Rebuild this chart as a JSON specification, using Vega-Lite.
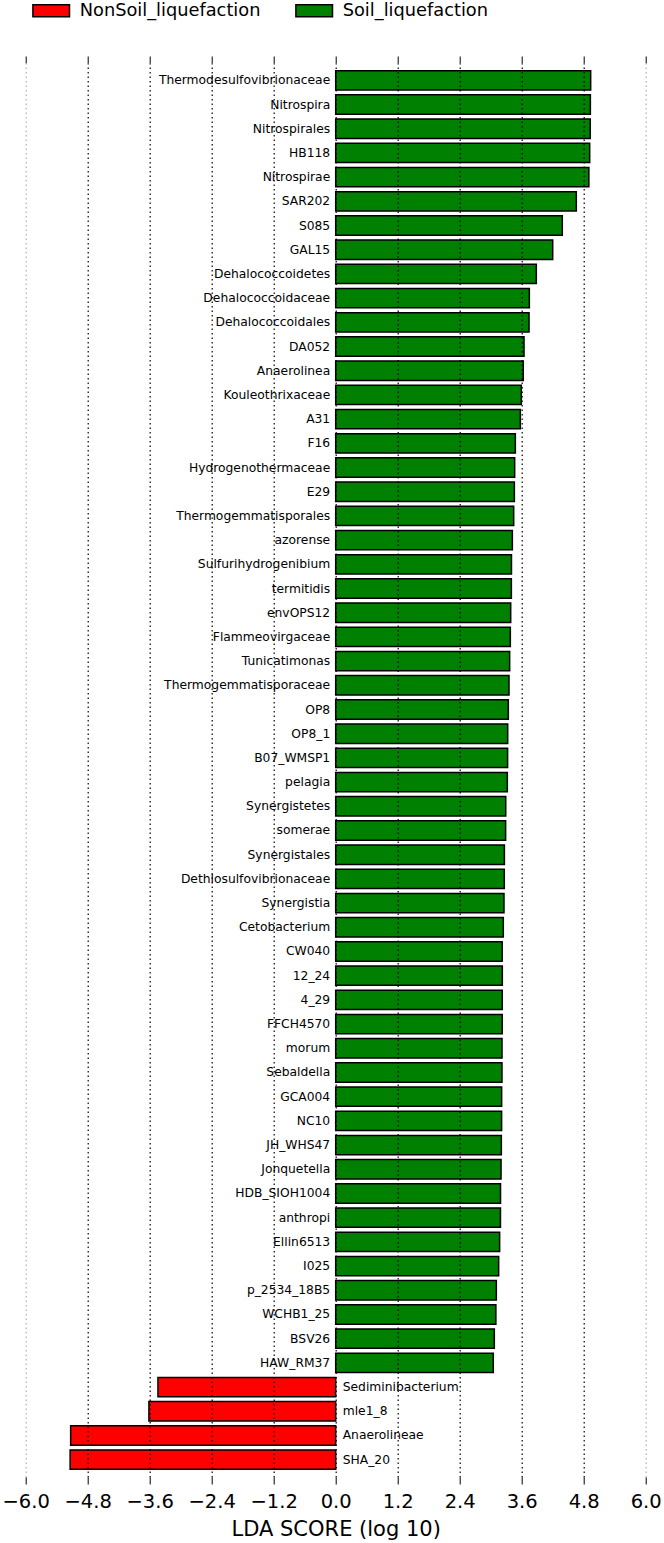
{
  "$schema": "https://vega.github.io/schema/vega-lite/v6.json",
  "width": 620,
  "height": 1414,
  "autosize": {"type": "none"},
  "padding": {"left": 25.7, "top": 63, "right": 18.3, "bottom": 66},
  "config": {"view": {"stroke": null}, "font": "DejaVu Sans"},
  "data": {
    "values": [
      {"name": "Thermodesulfovibrionaceae", "value": 4.935, "class": "Soil_liquefaction"},
      {"name": "Nitrospira", "value": 4.929, "class": "Soil_liquefaction"},
      {"name": "Nitrospirales", "value": 4.927, "class": "Soil_liquefaction"},
      {"name": "HB118", "value": 4.916, "class": "Soil_liquefaction"},
      {"name": "Nitrospirae", "value": 4.9, "class": "Soil_liquefaction"},
      {"name": "SAR202", "value": 4.657, "class": "Soil_liquefaction"},
      {"name": "S085", "value": 4.386, "class": "Soil_liquefaction"},
      {"name": "GAL15", "value": 4.2, "class": "Soil_liquefaction"},
      {"name": "Dehalococcoidetes", "value": 3.883, "class": "Soil_liquefaction"},
      {"name": "Dehalococcoidaceae", "value": 3.748, "class": "Soil_liquefaction"},
      {"name": "Dehalococcoidales", "value": 3.742, "class": "Soil_liquefaction"},
      {"name": "DA052", "value": 3.645, "class": "Soil_liquefaction"},
      {"name": "Anaerolinea", "value": 3.63, "class": "Soil_liquefaction"},
      {"name": "Kouleothrixaceae", "value": 3.593, "class": "Soil_liquefaction"},
      {"name": "A31", "value": 3.574, "class": "Soil_liquefaction"},
      {"name": "F16", "value": 3.477, "class": "Soil_liquefaction"},
      {"name": "Hydrogenothermaceae", "value": 3.464, "class": "Soil_liquefaction"},
      {"name": "E29", "value": 3.458, "class": "Soil_liquefaction"},
      {"name": "Thermogemmatisporales", "value": 3.445, "class": "Soil_liquefaction"},
      {"name": "azorense", "value": 3.419, "class": "Soil_liquefaction"},
      {"name": "Sulfurihydrogenibium", "value": 3.402, "class": "Soil_liquefaction"},
      {"name": "termitidis", "value": 3.4, "class": "Soil_liquefaction"},
      {"name": "envOPS12", "value": 3.387, "class": "Soil_liquefaction"},
      {"name": "Flammeovirgaceae", "value": 3.38, "class": "Soil_liquefaction"},
      {"name": "Tunicatimonas", "value": 3.367, "class": "Soil_liquefaction"},
      {"name": "Thermogemmatisporaceae", "value": 3.354, "class": "Soil_liquefaction"},
      {"name": "OP8", "value": 3.341, "class": "Soil_liquefaction"},
      {"name": "OP8_1", "value": 3.329, "class": "Soil_liquefaction"},
      {"name": "B07_WMSP1", "value": 3.327, "class": "Soil_liquefaction"},
      {"name": "pelagia", "value": 3.322, "class": "Soil_liquefaction"},
      {"name": "Synergistetes", "value": 3.291, "class": "Soil_liquefaction"},
      {"name": "somerae", "value": 3.289, "class": "Soil_liquefaction"},
      {"name": "Synergistales", "value": 3.265, "class": "Soil_liquefaction"},
      {"name": "Dethlosulfovibrionaceae", "value": 3.263, "class": "Soil_liquefaction"},
      {"name": "Synergistia", "value": 3.257, "class": "Soil_liquefaction"},
      {"name": "Cetobacterium", "value": 3.244, "class": "Soil_liquefaction"},
      {"name": "CW040", "value": 3.222, "class": "Soil_liquefaction"},
      {"name": "12_24", "value": 3.225, "class": "Soil_liquefaction"},
      {"name": "4_29", "value": 3.224, "class": "Soil_liquefaction"},
      {"name": "FFCH4570", "value": 3.223, "class": "Soil_liquefaction"},
      {"name": "morum", "value": 3.219, "class": "Soil_liquefaction"},
      {"name": "Sebaldella", "value": 3.218, "class": "Soil_liquefaction"},
      {"name": "GCA004", "value": 3.212, "class": "Soil_liquefaction"},
      {"name": "NC10", "value": 3.211, "class": "Soil_liquefaction"},
      {"name": "JH_WHS47", "value": 3.206, "class": "Soil_liquefaction"},
      {"name": "Jonquetella", "value": 3.2, "class": "Soil_liquefaction"},
      {"name": "HDB_SIOH1004", "value": 3.19, "class": "Soil_liquefaction"},
      {"name": "anthropi", "value": 3.189, "class": "Soil_liquefaction"},
      {"name": "Ellin6513", "value": 3.173, "class": "Soil_liquefaction"},
      {"name": "I025", "value": 3.154, "class": "Soil_liquefaction"},
      {"name": "p_2534_18B5", "value": 3.109, "class": "Soil_liquefaction"},
      {"name": "WCHB1_25", "value": 3.1, "class": "Soil_liquefaction"},
      {"name": "BSV26", "value": 3.07, "class": "Soil_liquefaction"},
      {"name": "HAW_RM37", "value": 3.05, "class": "Soil_liquefaction"},
      {"name": "Sediminibacterium", "value": -3.44, "class": "NonSoil_liquefaction"},
      {"name": "mle1_8", "value": -3.615, "class": "NonSoil_liquefaction"},
      {"name": "Anaerolineae", "value": -5.13, "class": "NonSoil_liquefaction"},
      {"name": "SHA_20", "value": -5.14, "class": "NonSoil_liquefaction"}
    ]
  },
  "layer": [
    {
      "mark": {"type": "bar", "stroke": "black", "strokeWidth": 1.5, "opacity": 1},
      "encoding": {
        "y": {"field": "name", "type": "nominal", "sort": null, "axis": null,
              "scale": {"paddingInner": 0.2, "paddingOuter": 0.316}},
        "x": {
          "field": "value", "type": "quantitative",
          "scale": {"domain": [-6, 6], "nice": false, "zero": false},
          "axis": {
            "orient": "bottom",
            "values": [-6, -4.8, -3.6, -2.4, -1.2, 0, 1.2, 2.4, 3.6, 4.8, 6],
            "format": ".1f",
            "domain": false,
            "ticks": true, "tickSize": 7, "tickColor": "black", "tickWidth": 1,
            "labelFont": "DejaVu Sans", "labelFontSize": 19.5, "labelColor": "black",
            "labelPadding": 8, "labelFlush": false, "labelOverlap": false,
            "grid": true,
            "gridColor": {"condition": {"test": "abs(datum.value) >= 6", "value": "#b0b0b0"}, "value": "black"},
            "gridDash": [1.5, 3], "gridWidth": 1.2, "gridOpacity": 1,
            "zindex": 1,
            "title": "LDA SCORE (log 10)",
            "titleFont": "DejaVu Sans", "titleFontSize": 21, "titleFontWeight": "normal",
            "titleColor": "black", "titlePadding": 7.5
          }
        },
        "color": {
          "field": "class", "type": "nominal",
          "scale": {"domain": ["NonSoil_liquefaction", "Soil_liquefaction"], "range": ["#ff0000", "#008000"]},
          "legend": {
            "orient": "none", "legendX": 6, "legendY": -72, "direction": "horizontal",
            "title": null,
            "symbolType": "M-1,-0.33L1,-0.33L1,0.33L-1,0.33Z",
            "symbolSize": 1340, "symbolStrokeColor": "black", "symbolStrokeWidth": 1.5, "symbolOpacity": 1,
            "labelFont": "DejaVu Sans", "labelFontSize": 17.8, "labelColor": "black",
            "labelOffset": 9, "columnPadding": 32, "padding": 0, "labelLimit": 400
          }
        }
      }
    },
    {
      "mark": {"type": "bar", "opacity": 0},
      "encoding": {
        "y": {"field": "name", "type": "nominal", "sort": null, "axis": null},
        "x": {
          "field": "value", "type": "quantitative",
          "axis": {
            "orient": "top",
            "values": [-6, -4.8, -3.6, -2.4, -1.2, 0, 1.2, 2.4, 3.6, 4.8, 6],
            "domain": false, "labels": false, "grid": false,
            "ticks": true, "tickSize": 7, "tickColor": "black", "tickWidth": 1,
            "title": null
          }
        }
      }
    },
    {
      "mark": {"type": "text", "align": "right", "baseline": "middle", "dx": -5.5, "font": "DejaVu Sans", "fontSize": 12.3, "color": "black"},
      "encoding": {
        "y": {"field": "name", "type": "nominal", "sort": null, "axis": null},
        "x": {"datum": 0, "type": "quantitative", "axis": null},
        "text": {"condition": {"test": "datum.value > 0", "field": "name"}, "value": ""}
      }
    },
    {
      "mark": {"type": "text", "align": "left", "baseline": "middle", "dx": 7, "font": "DejaVu Sans", "fontSize": 12.3, "color": "black"},
      "encoding": {
        "y": {"field": "name", "type": "nominal", "sort": null, "axis": null},
        "x": {"datum": 0, "type": "quantitative", "axis": null},
        "text": {"condition": {"test": "datum.value < 0", "field": "name"}, "value": ""}
      }
    }
  ],
  "resolve": {"axis": {"x": "independent"}}
}
